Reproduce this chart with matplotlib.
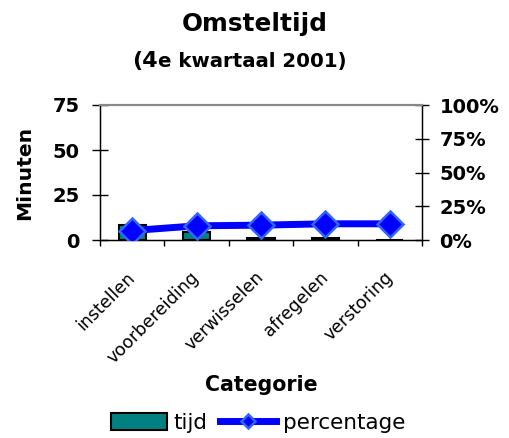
import matplotlib
matplotlib.use("Agg")
import matplotlib.pyplot as plt
import matplotlib.transforms as mtransforms
import numpy as np

categories = ["instellen", "voorbereiding", "verwisselen", "afregelen", "verstoring"]
tijd = [8.3, 4.3, 1.0, 1.0, 0.0]
percentage = [7.0, 10.5, 11.0, 12.0, 12.0]
left_ticks = [0, 25, 50, 75]
right_ticks = [0, 25, 50, 75, 100]

plt.rcParams['font.family'] = ['DejaVu Sans']

fig = plt.figure(figsize=(5.10, 4.38), dpi=100)
ax = fig.add_axes([100/510, 1-240/438, 322/510, 135/438])
x = np.arange(len(categories))
ax.bar(x, tijd, width=0.42, color="#008080", edgecolor="black", linewidth=1.5, label="tijd", zorder=2)
ax.set_xlim(-0.5, len(categories)-0.5)
ax.set_ylim(0, 75)
ax.set_yticks(left_ticks)
ax.set_yticklabels([str(t) for t in left_ticks], fontsize=14, fontweight='bold')
ax.set_xticks(np.arange(len(categories)+1)-0.5)
ax.set_xticklabels([])
ax.set_xticks(x, minor=True)
labels = ax.set_xticklabels(categories, minor=True, rotation=45, ha='right', va='center',
                            rotation_mode='anchor', fontsize=12.5)
offset = mtransforms.ScaledTranslation(-13/100, 0, fig.dpi_scale_trans)
for lab in labels:
    lab.set_transform(lab.get_transform() + offset)
ax.tick_params(axis='x', which='minor', length=0, pad=25)
ax.tick_params(axis='x', which='major', length=4.5, direction='out', width=1)
ax.tick_params(axis='y', direction='inout', length=11, width=1, pad=9)
ax.spines['top'].set_color('#888888')
ax.spines['top'].set_linewidth(1.5)
for s in ['left', 'bottom', 'right']:
    ax.spines[s].set_linewidth(1)
ax.set_ylabel("Minuten", fontsize=14.6, fontweight='bold', labelpad=13)
ax.set_xlabel("Categorie", fontsize=14.8, fontweight='bold', labelpad=0)
ax.xaxis.set_label_coords(0.5, -(385-240)/135)
ax.xaxis.label.set_va('center')

ax2 = ax.twinx()
ax2.plot(x, percentage, color="#0000FF", linewidth=5, marker='D', markersize=13.5,
         markerfacecolor="#0000FF", markeredgecolor="#3366FF", markeredgewidth=1.8,
         label="percentage", zorder=3)
ax2.set_ylim(0, 100)
ax2.set_yticks(right_ticks)
ax2.set_yticklabels([f"{t}%" for t in right_ticks], fontsize=14, fontweight='bold')
ax2.tick_params(axis='y', direction='inout', length=10, width=1, pad=7.5)
ax2.spines['top'].set_color('#888888')
ax2.spines['top'].set_linewidth(1.5)

h1, l1 = ax.get_legend_handles_labels()
h2, l2 = ax2.get_legend_handles_labels()
fig.legend(h1+h2, l1+l2, loc='center', bbox_to_anchor=(258/510, 1-423/438), ncol=2, frameon=False,
           fontsize=15.5, handlelength=2.6, handleheight=0.85, handletextpad=0.3,
           columnspacing=0.6, borderaxespad=0, borderpad=0, markerscale=0.5)

fig.text(0.5, 1-24/438, "Omsteltijd", ha='center', va='center', fontsize=17.8, fontweight='bold')
t1 = fig.text(0.5, 1-67/438, "(4", ha='left', va='baseline', fontsize=16, fontweight='bold')
t2 = fig.text(0.5, 1-67/438, "e kwartaal 2001)", ha='left', va='baseline', fontsize=14.2, fontweight='bold')
fig.canvas.draw()
r = fig.canvas.get_renderer()
w1 = t1.get_window_extent(r).width
start = 132
t1.set_x(start / 510)
t2.set_x((start + w1) / 510)

fig.savefig("out.png", dpi=100)
